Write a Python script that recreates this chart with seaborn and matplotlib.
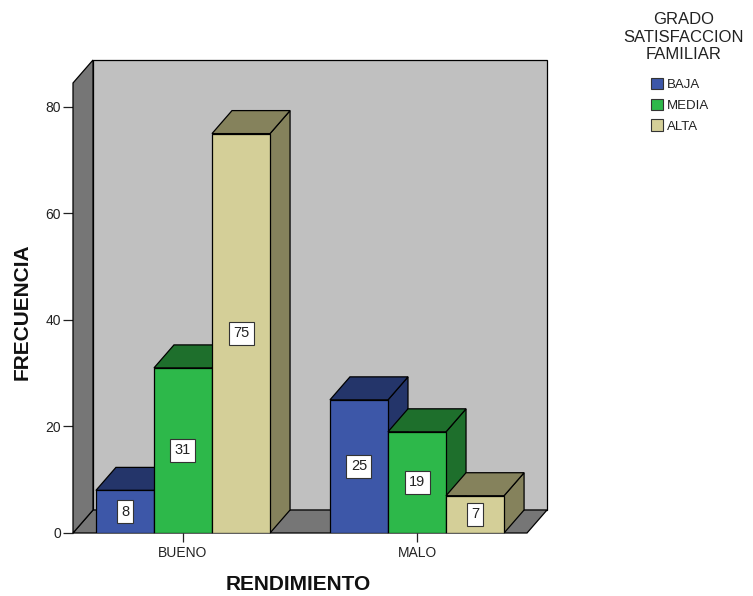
import numpy as np
import pandas as pd
import matplotlib
matplotlib.use('Agg')
import matplotlib.pyplot as plt
import seaborn as sns
from matplotlib.patches import Polygon, Patch

# datos
rendimiento = ['BUENO', 'MALO']
grado = ['BAJA', 'MEDIA', 'ALTA']
frec_bueno = [8, 31, 75]
frec_malo = [25, 19, 7]
y_ticks = [0, 20, 40, 60, 80]

colores = ['#3d57a8', '#2db84a', '#d4cf98']
colores_osc = ['#24356a', '#1e6f2c', '#85825c']

data = pd.DataFrame({
    'RENDIMIENTO': np.repeat(rendimiento, len(grado)),
    'GRADO': grado * len(rendimiento),
    'FRECUENCIA': frec_bueno + frec_malo,
})

sns.set_style('white')
plt.rcParams['font.family'] = ['Liberation Sans', 'DejaVu Sans']

fig = plt.figure(figsize=(7.53, 5.96), dpi=100)
ax = fig.add_axes([73 / 753, 63 / 596, 454 / 753, 450 / 596])

sns.barplot(data=data, x='RENDIMIENTO', y='FRECUENCIA', hue='GRADO',
            order=rendimiento, hue_order=grado, palette=colores, saturation=1,
            width=0.744, gap=0, edgecolor='black', linewidth=0.9,
            legend=False, ax=ax)

ax.set_xlim(-0.47, 1.47)
ax.set_ylim(0, 84.5)
for s in ax.spines.values():
    s.set_visible(False)
ax.patch.set_visible(False)

# profundidad del efecto 3D (20 px a la derecha, 23 px arriba)
p0 = ax.transData.transform((0, 0))
dx, dy = ax.transData.inverted().transform(p0 + np.array([20, 23]))

x0, x1 = ax.get_xlim()
ytop = ax.get_ylim()[1]
kw = dict(ec='black', lw=0.9, clip_on=False)
ax.add_patch(Polygon([(x0 + dx, dy), (x1 + dx, dy), (x1 + dx, ytop + dy), (x0 + dx, ytop + dy)],
                     fc='#c0c0c0', zorder=0.5, **kw))
ax.add_patch(Polygon([(x0, 0), (x1, 0), (x1 + dx, dy), (x0 + dx, dy)], fc='#767676', zorder=0.6, **kw))
ax.add_patch(Polygon([(x0, 0), (x0, ytop), (x0 + dx, ytop + dy), (x0 + dx, dy)], fc='#767676', zorder=0.7, **kw))

# barras 3D: cara lateral, superior y frontal, de izquierda a derecha
barras = []
for k, cont in enumerate(ax.containers):
    for p in cont.patches:
        barras.append((p.get_x(), k, p))
barras.sort(key=lambda b: b[0])

for i, (x, k, p) in enumerate(barras):
    w = p.get_width()
    h = p.get_height()
    z = 2 + i * 0.1
    ax.add_patch(Polygon([(x + w, 0), (x + w + dx, dy), (x + w + dx, h + dy), (x + w, h)],
                         fc=colores_osc[k], zorder=z, **kw))
    ax.add_patch(Polygon([(x, h), (x + w, h), (x + w + dx, h + dy), (x + dx, h + dy)],
                         fc=colores_osc[k], zorder=z + 0.01, **kw))
    p.set_zorder(z + 0.02)
    ax.text(x + w / 2, h / 2, str(int(h)), ha='center', va='center', fontsize=10.5,
            color='#222222', zorder=50,
            bbox=dict(fc='white', ec='#333333', lw=0.8, boxstyle='square,pad=0.3'))

ax.set_yticks(y_ticks)
ax.tick_params(axis='y', left=True, length=7.5, width=0.9, color='#222222',
               labelsize=10, labelcolor='#222222', pad=1)
ax.tick_params(axis='x', bottom=True, length=6.5, width=0.9, color='#222222',
               labelsize=10, labelcolor='#222222', pad=3)
ax.set_xlabel('')
ax.set_ylabel('')

fig.text(22 / 753, 1 - 312 / 596, 'FRECUENCIA', rotation=90, ha='center', va='center',
         fontsize=15, fontweight='bold', color='#111111')
fig.text(298 / 753, 1 - 585 / 596, 'RENDIMIENTO', ha='center', va='center',
         fontsize=15, fontweight='bold', color='#111111')

# leyenda con titulo en tres lineas
fig.text(684 / 753, 1 - 37 / 596, 'GRADO\nSATISFACCION\nFAMILIAR', ha='center', va='center',
         multialignment='center', linespacing=1.22, fontsize=12, color='#222222')
handles = [Patch(fc=c, ec='#333333', lw=0.8) for c in colores]
leg = fig.legend(handles, grado, loc='upper left', bbox_to_anchor=(648 / 753, 1 - 75 / 596),
                 frameon=False, fontsize=9.5, handlelength=0.95, handleheight=0.95,
                 handletextpad=0.25, labelspacing=0.58, borderpad=0.2, borderaxespad=0)
for t in leg.get_texts():
    t.set_color('#222222')

fig.savefig('out.png', dpi=100)
